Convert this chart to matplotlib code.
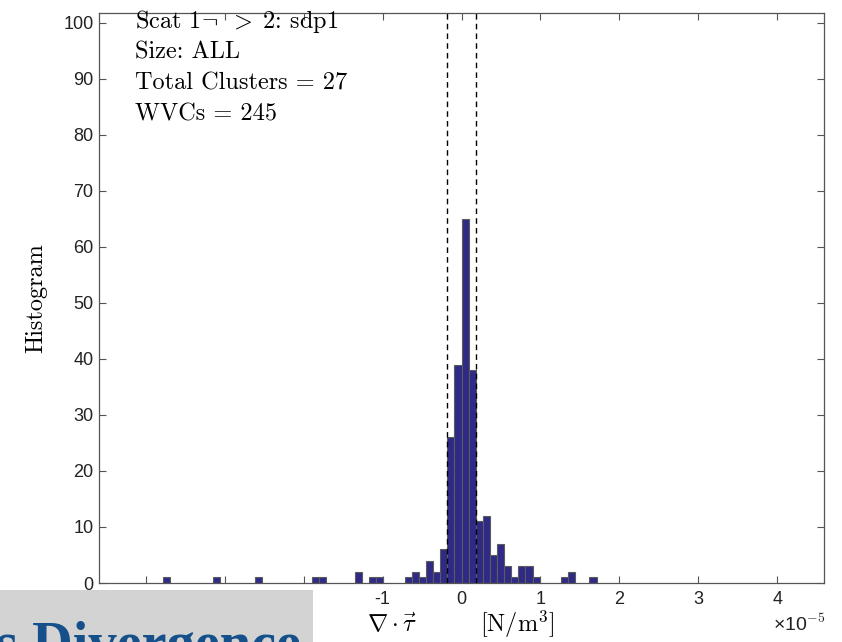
import numpy as np
import matplotlib
matplotlib.use('Agg')
import matplotlib.pyplot as plt

# histogram of divergence (units of 1e-5 N/m^3), bin width 0.09
bin_width = 0.09
bin_left = [-3.78, -3.15, -2.61, -1.89, -1.80, -1.35, -1.17, -1.08,
            -0.72, -0.63, -0.54, -0.45, -0.36, -0.27, -0.18, -0.09,
            0.00, 0.09, 0.18, 0.27, 0.36, 0.45, 0.54, 0.63, 0.72, 0.81,
            0.90, 1.26, 1.35, 1.62]
counts = [1, 1, 1, 1, 1, 2, 1, 1,
          1, 2, 1, 4, 2, 6, 26, 39,
          65, 38, 11, 12, 5, 7, 3, 1, 3, 3,
          1, 1, 2, 1]
# +/- threshold lines
thresh = [-0.18, 0.18]
info_lines = [r'Scat 1$\neg\;\;>\;2$: sdp1',
              'Size: ALL',
              'Total Clusters = 27',
              'WVCs = 245']

plt.rcParams['mathtext.fontset'] = 'cm'
plt.rcParams['axes.unicode_minus'] = False
plt.rcParams['font.family'] = 'Liberation Sans'

fig = plt.figure(figsize=(8.42, 6.42), dpi=100)
ax = fig.add_axes([0.1176, 0.0919, 0.861, 0.888])

ax.bar(bin_left, counts, width=bin_width, align='edge',
       color='#2f2a86', edgecolor='#5c5c5c', linewidth=0.8, zorder=2)
for t in thresh:
  ax.axvline(t, color='black', linestyle='--', linewidth=1.0, dashes=(4, 3), zorder=3)

ax.set_xlim(-4.59, 4.59)
ax.set_ylim(0, 101.8)
ax.set_xticks(np.arange(-4, 5, 1))
ax.set_yticks(np.arange(0, 101, 10))
ax.tick_params(direction='in', top=True, right=True, length=5, width=0.8,
               color='#555555', labelsize=13, labelcolor='#222222')
ax.tick_params(axis='y', pad=4)
ax.tick_params(axis='x', pad=6)
for s in ax.spines.values():
  s.set_color('#555555')
  s.set_linewidth(0.9)

ax.set_ylabel('Histogram', fontsize=17.5, family='cmr10')
ax.yaxis.set_label_coords(-0.071, 0.5)
fig.text(0.436, 0.016, r'$\nabla\cdot\vec{\tau}$', fontsize=17.5, ha='left', va='baseline')
fig.text(0.570, 0.016, r'$[\mathrm{N/m}^3]$', fontsize=17.5, ha='left', va='baseline')
fig.text(0.980, 0.017, r'×10$^{\mathsf{-5}}$', fontsize=14, ha='right', va='baseline',
         color='#222222')

for i, line in enumerate(info_lines):
  fig.text(0.160, 1 - (28 + 30.7 * i) / 642, line, fontsize=17.5, family='cmr10',
           ha='left', va='baseline')

# slide title strip overlapping the bottom-left corner
strip = fig.add_axes([0, 0, 313 / 842, 52 / 642], zorder=10)
strip.set_facecolor('#d3d3d3')
strip.set_xticks([])
strip.set_yticks([])
for s in strip.spines.values():
  s.set_visible(False)
strip.text(-0.012, -0.36, 's Divergence', transform=strip.transAxes, fontsize=40.5,
           fontweight='bold', family='Liberation Serif', color='#15508a',
           ha='left', va='baseline', clip_on=False)

fig.savefig('out.png', dpi=100)
